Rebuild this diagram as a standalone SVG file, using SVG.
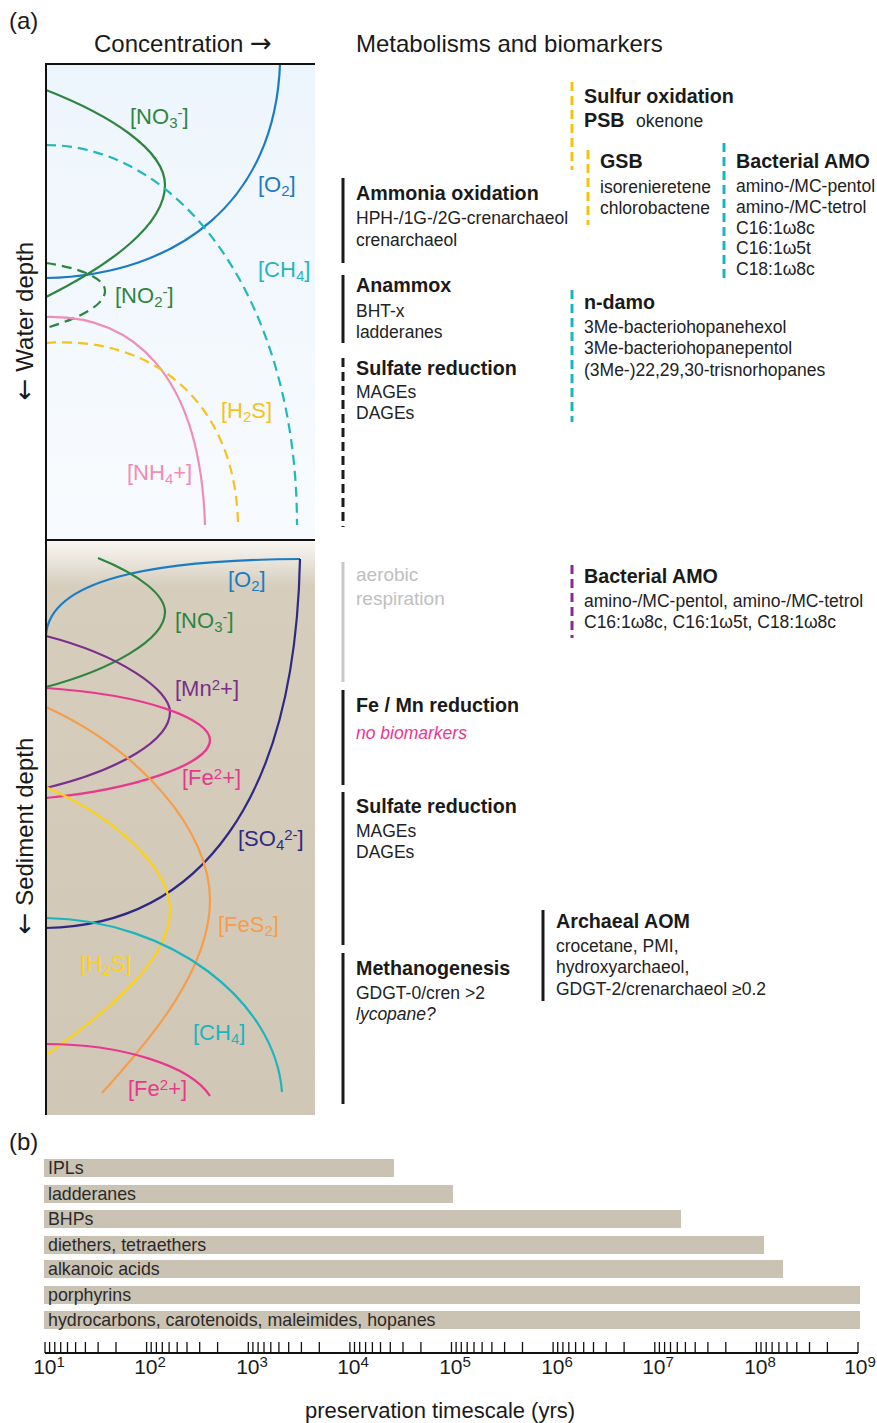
<svg xmlns="http://www.w3.org/2000/svg" width="877" height="1423" viewBox="0 0 877 1423">
<defs>
<linearGradient id="water" x1="0" y1="64" x2="0" y2="540" gradientUnits="userSpaceOnUse">
<stop offset="0" stop-color="#edf5fc"/><stop offset="1" stop-color="#f8fbfe"/>
</linearGradient>
<linearGradient id="sed" x1="0" y1="540" x2="0" y2="1115" gradientUnits="userSpaceOnUse">
<stop offset="0" stop-color="#faf8f5"/><stop offset="0.08" stop-color="#d6cdbd"/><stop offset="1" stop-color="#d1c7b6"/>
</linearGradient>
<style>
text{font-family:"Liberation Sans",Arial,sans-serif}
.hd{font-size:24px;fill:#1a1a1a}
.ar{font-family:"DejaVu Sans",sans-serif;font-size:26px}
.ti{font-size:19.7px;font-weight:bold;fill:#1a1a1a}
.bd{font-size:17.5px;fill:#222}
.ch{font-size:22px}
.sb{font-size:15px}
.cv{fill:none;stroke-width:2.2}
.dsh{stroke-dasharray:10 6}
.vb{fill:none;stroke-width:3}
.vd{stroke-dasharray:9 5}
.br{fill:#cac2b3}
.bl{font-size:17.8px;fill:#2a2a2a}
.ax{font-size:21px;fill:#1a1a1a}
</style>
</defs>
<rect width="877" height="1423" fill="#ffffff"/>

<g id="labels">
<text class="hd" x="9" y="29">(a)</text>
<text class="hd" x="94" y="52">Concentration <tspan class="ar">→</tspan></text>
<text class="hd" x="356" y="52">Metabolisms and biomarkers</text>
<text class="hd" transform="translate(33,321) rotate(-90)" text-anchor="middle"><tspan class="ar">←</tspan> Water depth</text>
<text class="hd" transform="translate(33,836) rotate(-90)" text-anchor="middle"><tspan class="ar">←</tspan> Sediment depth</text>
<text class="hd" x="9" y="1150">(b)</text>
</g>

<g id="water-column">
<rect x="46" y="64" width="269" height="476" fill="url(#water)"/>
<path class="cv" stroke="#1a7cc4" d="M280,64 C275,200 180,275 46,278"/>
<path class="cv" stroke="#2e8540" d="M46,90 C110,115 165,150 165,185 C165,225 110,265 46,297"/>
<path class="cv dsh" stroke="#2e8540" d="M46,263 C80,268 105,278 105,291 C105,305 80,318 46,328"/>
<path class="cv dsh" stroke="#1fb8bd" d="M46,145 C180,145 297,300 297,525"/>
<path class="cv" stroke="#f08cb8" d="M46,317 C130,315 200,370 205,525"/>
<path class="cv dsh" stroke="#f6c21c" d="M46,343 C150,335 236,400 238,525"/>
<text class="ch" x="130" y="124" fill="#2e8540">[NO<tspan class="sb" baseline-shift="-4">3</tspan><tspan class="sb" baseline-shift="6">-</tspan>]</text>
<text class="ch" x="258" y="192" fill="#1a7cc4">[O<tspan class="sb" baseline-shift="-4">2</tspan>]</text>
<text class="ch" x="258" y="277" fill="#1fb8bd">[CH<tspan class="sb" baseline-shift="-4">4</tspan>]</text>
<text class="ch" x="115" y="303" fill="#2e8540">[NO<tspan class="sb" baseline-shift="-4">2</tspan><tspan class="sb" baseline-shift="6">-</tspan>]</text>
<text class="ch" x="221" y="418" fill="#f6c21c">[H<tspan class="sb" baseline-shift="-4">2</tspan>S]</text>
<text class="ch" x="127" y="480" fill="#f08cb8">[NH<tspan class="sb" baseline-shift="-4">4</tspan>+]</text>
</g>

<g id="sediment">
<rect x="46" y="540" width="269" height="575" fill="url(#sed)"/>
<path class="cv" stroke="#1a7cc4" d="M46,635 C50,580 150,560 300,559"/>
<path class="cv" stroke="#2e2a84" d="M300,559 C295,800 200,925 46,928"/>
<path class="cv" stroke="#2e8540" d="M98,558 C140,575 165,595 165,612 C165,640 110,670 46,687"/>
<path class="cv" stroke="#7a2f8a" d="M46,636 C120,655 170,690 170,712 C170,740 120,770 46,788"/>
<path class="cv" stroke="#e8388e" d="M46,688 C150,695 210,720 210,740 C210,765 130,790 46,798"/>
<path class="cv" stroke="#f59d4b" d="M46,707 C140,750 210,830 210,900 C210,970 150,1040 102,1093"/>
<path class="cv" stroke="#fcd116" d="M46,787 C120,820 170,870 170,910 C170,960 110,1010 46,1055"/>
<path class="cv" stroke="#1ab5be" d="M46,918 C170,920 275,1000 282,1092"/>
<path class="cv" stroke="#e8388e" d="M46,1044 C120,1044 190,1065 210,1096"/>
<text class="ch" x="228" y="587" fill="#1a7cc4">[O<tspan class="sb" baseline-shift="-4">2</tspan>]</text>
<text class="ch" x="175" y="628" fill="#2e8540">[NO<tspan class="sb" baseline-shift="-4">3</tspan><tspan class="sb" baseline-shift="6">-</tspan>]</text>
<text class="ch" x="175" y="696" fill="#7a2f8a">[Mn<tspan class="sb" baseline-shift="6">2</tspan>+]</text>
<text class="ch" x="182" y="785" fill="#e8388e">[Fe<tspan class="sb" baseline-shift="6">2</tspan>+]</text>
<text class="ch" x="238" y="846" fill="#2e2a84">[SO<tspan class="sb" baseline-shift="-4">4</tspan><tspan class="sb" baseline-shift="6">2-</tspan>]</text>
<text class="ch" x="218" y="932" fill="#f59d4b">[FeS<tspan class="sb" baseline-shift="-4">2</tspan>]</text>
<text class="ch" x="80" y="971" fill="#fcd116">[H<tspan class="sb" baseline-shift="-4">2</tspan>S]</text>
<text class="ch" x="193" y="1040" fill="#1ab5be">[CH<tspan class="sb" baseline-shift="-4">4</tspan>]</text>
<text class="ch" x="128" y="1096" fill="#e8388e">[Fe<tspan class="sb" baseline-shift="6">2</tspan>+]</text>
</g>

<g id="frame" fill="none" stroke="#111" stroke-width="2">
<path d="M46,1115 V64 H315"/>
<path d="M46,540 H315"/>
</g>

<g id="metabolisms">
<g id="ammonia-oxidation">
<path class="vb" stroke="#1a1a1a" d="M343,178 V263"/>
<text class="ti" x="356" y="200">Ammonia oxidation</text>
<text class="bd" x="356" y="224">HPH-/1G-/2G-crenarchaeol</text>
<text class="bd" x="356" y="246">crenarchaeol</text>
</g>
<g id="anammox">
<path class="vb" stroke="#1a1a1a" d="M343,275 V343"/>
<text class="ti" x="356" y="292">Anammox</text>
<text class="bd" x="356" y="317">BHT-x</text>
<text class="bd" x="356" y="338">ladderanes</text>
</g>
<g id="sulfate-reduction-water">
<path class="vb vd" stroke="#1a1a1a" d="M343,358 V527"/>
<text class="ti" x="356" y="375">Sulfate reduction</text>
<text class="bd" x="356" y="398">MAGEs</text>
<text class="bd" x="356" y="419">DAGEs</text>
</g>
<g id="sulfur-oxidation">
<path class="vb vd" stroke="#f5c211" d="M572,82 V170"/>
<text class="ti" x="584" y="103">Sulfur oxidation</text>
<text class="ti" x="584" y="127">PSB</text>
<text class="bd" x="636" y="127">okenone</text>
</g>
<g id="gsb">
<path class="vb vd" stroke="#f5c211" d="M588,150 V225"/>
<text class="ti" x="600" y="168">GSB</text>
<text class="bd" x="600" y="193">isorenieretene</text>
<text class="bd" x="600" y="214">chlorobactene</text>
</g>
<g id="bacterial-amo-water">
<path class="vb vd" stroke="#1ab5be" d="M724,143 V282"/>
<text class="ti" x="736" y="168">Bacterial AMO</text>
<text class="bd" x="736" y="192">amino-/MC-pentol</text>
<text class="bd" x="736" y="213">amino-/MC-tetrol</text>
<text class="bd" x="736" y="234">C16:1ω8c</text>
<text class="bd" x="736" y="254">C16:1ω5t</text>
<text class="bd" x="736" y="275">C18:1ω8c</text>
</g>
<g id="n-damo">
<path class="vb vd" stroke="#1ab5be" d="M572,290 V422"/>
<text class="ti" x="584" y="309">n-damo</text>
<text class="bd" x="584" y="333">3Me-bacteriohopanehexol</text>
<text class="bd" x="584" y="354">3Me-bacteriohopanepentol</text>
<text class="bd" x="584" y="376">(3Me-)22,29,30-trisnorhopanes</text>
</g>
<g id="aerobic-respiration">
<path class="vb" stroke="#c8c8c8" d="M343,562 V682"/>
<text x="356" y="581" style="font-size:19px;fill:#c0c0c0">aerobic</text>
<text x="356" y="605" style="font-size:19px;fill:#c0c0c0">respiration</text>
</g>
<g id="bacterial-amo-sediment">
<path class="vb vd" stroke="#8b2a8e" d="M572,565 V638"/>
<text class="ti" x="584" y="583">Bacterial AMO</text>
<text class="bd" x="584" y="607">amino-/MC-pentol, amino-/MC-tetrol</text>
<text class="bd" x="584" y="628">C16:1ω8c, C16:1ω5t, C18:1ω8c</text>
</g>
<g id="fe-mn-reduction">
<path class="vb" stroke="#1a1a1a" d="M343,690 V785"/>
<text class="ti" x="356" y="712">Fe / Mn reduction</text>
<text class="bd" x="356" y="739" style="fill:#e8388e;font-style:italic">no biomarkers</text>
</g>
<g id="sulfate-reduction-sediment">
<path class="vb" stroke="#1a1a1a" d="M343,792 V945"/>
<text class="ti" x="356" y="813">Sulfate reduction</text>
<text class="bd" x="356" y="837">MAGEs</text>
<text class="bd" x="356" y="858">DAGEs</text>
</g>
<g id="methanogenesis">
<path class="vb" stroke="#1a1a1a" d="M343,953 V1104"/>
<text class="ti" x="356" y="975">Methanogenesis</text>
<text class="bd" x="356" y="999">GDGT-0/cren &gt;2</text>
<text class="bd" x="356" y="1020" style="font-style:italic">lycopane?</text>
</g>
<g id="archaeal-aom">
<path class="vb" stroke="#1a1a1a" d="M543,910 V1001"/>
<text class="ti" x="556" y="928">Archaeal AOM</text>
<text class="bd" x="556" y="952">crocetane, PMI,</text>
<text class="bd" x="556" y="973">hydroxyarchaeol,</text>
<text class="bd" x="556" y="995">GDGT-2/crenarchaeol ≥0.2</text>
</g>
</g>

<g id="preservation-bars">
<rect class="br" x="44" y="1159" width="350" height="18"/>
<rect class="br" x="44" y="1185" width="409" height="18"/>
<rect class="br" x="44" y="1210" width="637" height="18"/>
<rect class="br" x="44" y="1236" width="720" height="18"/>
<rect class="br" x="44" y="1260" width="739" height="18"/>
<rect class="br" x="44" y="1286" width="816" height="18"/>
<rect class="br" x="44" y="1311" width="816" height="18"/>
<text class="bl" x="48" y="1174">IPLs</text>
<text class="bl" x="48" y="1200">ladderanes</text>
<text class="bl" x="48" y="1225">BHPs</text>
<text class="bl" x="48" y="1251">diethers, tetraethers</text>
<text class="bl" x="48" y="1275">alkanoic acids</text>
<text class="bl" x="48" y="1301">porphyrins</text>
<text class="bl" x="48" y="1326">hydrocarbons, carotenoids, maleimides, hopanes</text>
</g>

<g id="axis">
<path d="M45,1353 H858" stroke="#111" stroke-width="2" fill="none"/>
<path stroke="#111" stroke-width="1.3" fill="none" d="M45,1342V1353M49.6,1342V1353M54.8,1342V1353M60.7,1342V1353M67.5,1342V1353M75.6,1342V1353M85.4,1342V1353M98.1,1342V1353M116,1342V1353
M146.6,1342V1353M151.2,1342V1353M156.4,1342V1353M162.3,1342V1353M169.1,1342V1353M177.2,1342V1353M187,1342V1353M199.7,1342V1353M217.6,1342V1353
M248.3,1342V1353M252.9,1342V1353M258.1,1342V1353M264,1342V1353M270.8,1342V1353M278.9,1342V1353M288.7,1342V1353M301.4,1342V1353M319.3,1342V1353
M349.9,1342V1353M354.5,1342V1353M359.7,1342V1353M365.6,1342V1353M372.4,1342V1353M380.5,1342V1353M390.3,1342V1353M403,1342V1353M420.9,1342V1353
M451.5,1342V1353M456.1,1342V1353M461.3,1342V1353M467.2,1342V1353M474,1342V1353M482.1,1342V1353M491.9,1342V1353M504.6,1342V1353M522.5,1342V1353
M553.1,1342V1353M557.7,1342V1353M562.9,1342V1353M568.8,1342V1353M575.6,1342V1353M583.7,1342V1353M593.5,1342V1353M606.2,1342V1353M624.1,1342V1353
M654.8,1342V1353M659.4,1342V1353M664.6,1342V1353M670.5,1342V1353M677.3,1342V1353M685.4,1342V1353M695.2,1342V1353M707.9,1342V1353M725.8,1342V1353
M756.4,1342V1353M761,1342V1353M766.2,1342V1353M772.1,1342V1353M778.9,1342V1353M787,1342V1353M796.8,1342V1353M809.5,1342V1353M827.4,1342V1353
M858,1342V1353"/>
<g class="ax" text-anchor="middle">
<text x="49" y="1374">10<tspan font-size="15" baseline-shift="7">1</tspan></text>
<text x="150" y="1374">10<tspan font-size="15" baseline-shift="7">2</tspan></text>
<text x="252" y="1374">10<tspan font-size="15" baseline-shift="7">3</tspan></text>
<text x="353" y="1374">10<tspan font-size="15" baseline-shift="7">4</tspan></text>
<text x="455" y="1374">10<tspan font-size="15" baseline-shift="7">5</tspan></text>
<text x="557" y="1374">10<tspan font-size="15" baseline-shift="7">6</tspan></text>
<text x="658" y="1374">10<tspan font-size="15" baseline-shift="7">7</tspan></text>
<text x="760" y="1374">10<tspan font-size="15" baseline-shift="7">8</tspan></text>
<text x="860" y="1374">10<tspan font-size="15" baseline-shift="7">9</tspan></text>
</g>
<text x="440" y="1418" text-anchor="middle" style="font-size:22px;fill:#1a1a1a">preservation timescale (yrs)</text>
</g>
</svg>
